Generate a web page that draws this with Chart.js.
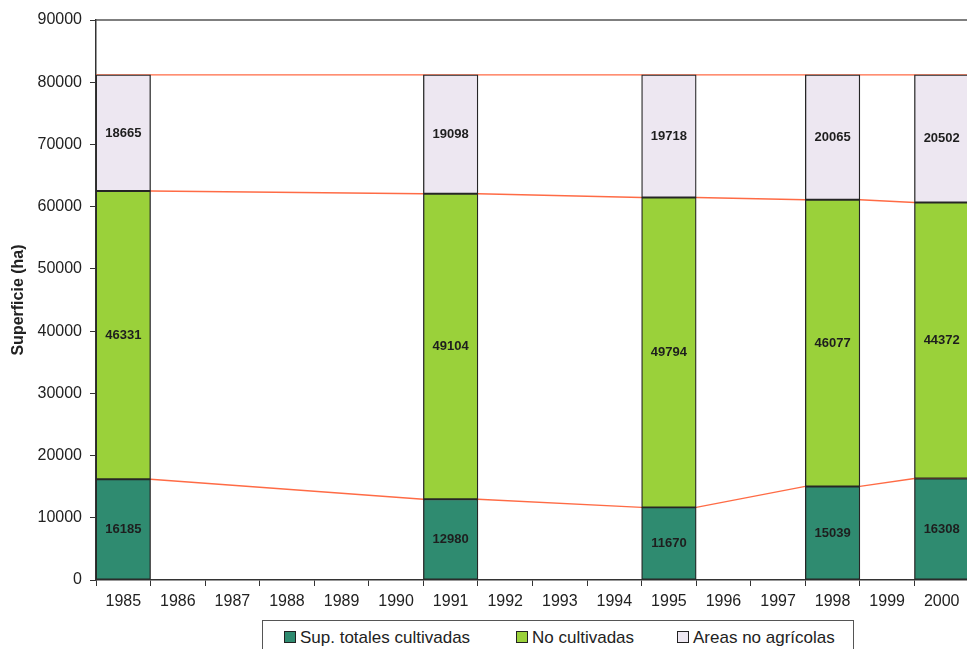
<!DOCTYPE html>
<html>
<head>
<meta charset="utf-8">
<script src="https://cdn.jsdelivr.net/npm/chart.js@4.4.1/dist/chart.umd.min.js"></script>
<style>
  html, body { margin: 0; padding: 0; background: #fff; overflow: hidden; }
  #wrap { position: absolute; left: 0; top: 0; width: 980px; height: 649px; }
  #legend {
    position: absolute; left: 262px; top: 620px; width: 592px; height: 40px;
    border: 1px solid #555; background: #fff; box-sizing: border-box;
    font-family: "Liberation Sans", Arial, sans-serif; font-size: 17px; color: #222;
  }
  .item { position: absolute; top: 7px; white-space: nowrap; }
  .sw { display: inline-block; width: 10px; height: 10px; border: 1px solid #222;
        margin-right: 4px; vertical-align: 0px; }
</style>
</head>
<body>
<div id="wrap"><canvas id="c"></canvas></div>
<div id="legend"></div>
<script>
// Category axis: every year of the period
const years = ['1985','1986','1987','1988','1989','1990','1991','1992','1993','1994','1995','1996','1997','1998','1999','2000'];
// Years with surveyed land-use data
const surveyYears = ['1985','1991','1995','1998','2000'];
// Surface in hectares per land-use class
const cultivadas   = [16185, 12980, 11670, 15039, 16308];
const noCultivadas = [46331, 49104, 49794, 46077, 44372];
const noAgricolas  = [18665, 19098, 19718, 20065, 20502];
// Value axis ticks
const yTicks = [0, 10000, 20000, 30000, 40000, 50000, 60000, 70000, 80000, 90000];

const seriesNames  = ['Sup. totales cultivadas', 'No cultivadas', 'Areas no agrícolas'];
const seriesColors = ['#2f8b70', '#9ad13a', '#ede7f1'];
const seriesValues = [cultivadas, noCultivadas, noAgricolas];

// Spread survey values over the full year axis (gaps where no survey)
function spread(vals) {
  return years.map(y => {
    const k = surveyYears.indexOf(y);
    return k >= 0 ? vals[k] : null;
  });
}

// Connector lines between the stack boundaries of consecutive bars,
// joined from the edge of one bar to the edge of the next
function boundaryLine(level) {
  const pts = [];
  surveyYears.forEach((y, k) => {
    let cum = 0;
    for (let s = 0; s <= level; s++) cum += seriesValues[s][k];
    const i = years.indexOf(y);
    pts.push({ x: i - 0.5, y: cum });
    pts.push({ x: i + 0.5, y: cum });
  });
  return pts;
}

const barSets = seriesNames.map((name, s) => ({
  type: 'bar',
  label: name,
  data: spread(seriesValues[s]),
  backgroundColor: seriesColors[s],
  borderColor: '#262626',
  borderWidth: 1.3,
  borderSkipped: false,
  barPercentage: 1,
  categoryPercentage: 1,
  grouped: false,
  stack: 'uso',
  order: 1
}));

const lineSets = [0, 1, 2].map(level => ({
  type: 'line',
  label: 'l' + level,
  data: boundaryLine(level),
  xAxisID: 'xl',
  yAxisID: 'yl',
  stack: 'uso',
  borderColor: '#ff6b45',
  borderWidth: 1.4,
  pointRadius: 0,
  tension: 0,
  order: 5
}));

const font = "'Liberation Sans', Arial, sans-serif";

// Value labels centred inside each bar segment
const segmentLabels = {
  id: 'segmentLabels',
  afterDatasetsDraw(chart) {
    const ctx = chart.ctx;
    ctx.save();
    ctx.font = 'bold 13px ' + font;
    ctx.fillStyle = '#1e1e1e';
    ctx.textAlign = 'center';
    ctx.textBaseline = 'middle';
    chart.data.datasets.forEach((ds, di) => {
      if (ds.type !== 'bar') return;
      const meta = chart.getDatasetMeta(di);
      meta.data.forEach((el, i) => {
        const v = ds.data[i];
        if (v == null) return;
        const p = el.getProps(['x', 'y', 'base'], true);
        ctx.fillText(String(v), p.x, (p.y + p.base) / 2);
      });
    });
    ctx.restore();
  }
};

// Top edge of the plot frame
const plotFrame = {
  id: 'plotFrame',
  afterDraw(chart) {
    const a = chart.chartArea, ctx = chart.ctx;
    ctx.save();
    ctx.strokeStyle = '#555';
    ctx.lineWidth = 1.5;
    ctx.beginPath();
    ctx.moveTo(a.left, a.top);
    ctx.lineTo(a.right, a.top);
    ctx.stroke();
    ctx.restore();
  }
};

new Chart(document.getElementById('c'), {
  type: 'bar',
  data: { labels: years, datasets: [...barSets, ...lineSets] },
  options: {
    responsive: true,
    maintainAspectRatio: false,
    animation: false,
    layout: { padding: { left: 0, right: 11, top: 20, bottom: 0 } },
    plugins: {
      legend: { display: false },
      tooltip: { enabled: false },
      title: { display: false }
    },
    scales: {
      x: {
        stacked: true,
        offset: true,
        grid: { display: true, offset: true, drawOnChartArea: false, drawTicks: true, tickLength: 6, color: '#333' },
        border: { display: true, color: '#333', width: 1.5 },
        ticks: { color: '#222', font: { family: font, size: 16 }, padding: 6, maxRotation: 0, autoSkip: false },
        afterFit(scale) { scale.height = 69; }
      },
      y: {
        stacked: true,
        min: 0, max: 90000,
        afterBuildTicks(scale) { scale.ticks = yTicks.map(v => ({ value: v })); },
        grid: { display: true, drawOnChartArea: false, drawTicks: true, tickLength: 6, color: '#333' },
        border: { display: true, color: '#333', width: 1.5 },
        ticks: { color: '#222', font: { family: font, size: 16 }, padding: 8, callback: v => String(v) },
        title: { display: true, text: 'Superficie (ha)', color: '#222',
                 font: { family: font, size: 16, weight: 'bold' }, padding: { top: 9, bottom: 0 } },
        afterFit(scale) { scale.width = 96; }
      },
      xl: { type: 'linear', display: false, offset: false, min: -0.5, max: years.length - 0.5 },
      yl: { type: 'linear', display: false, stacked: false, min: 0, max: 90000 }
    }
  },
  plugins: [segmentLabels, plotFrame]
});

// Legend box below the axis
const legend = document.getElementById('legend');
const lefts = [21, 253, 414];
seriesNames.forEach((name, s) => {
  const it = document.createElement('div');
  it.className = 'item';
  it.style.left = lefts[s] + 'px';
  const sw = document.createElement('span');
  sw.className = 'sw';
  sw.style.background = seriesColors[s];
  it.appendChild(sw);
  it.appendChild(document.createTextNode(name));
  legend.appendChild(it);
});
</script>
</body>
</html>
